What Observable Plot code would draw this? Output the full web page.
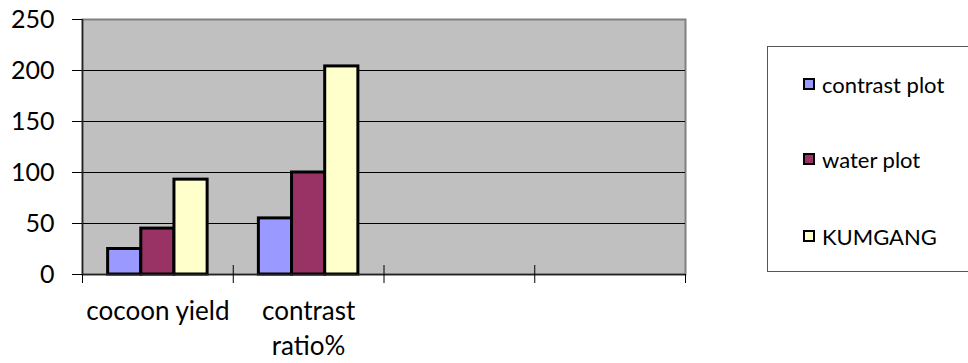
<!DOCTYPE html>
<html><head><meta charset="utf-8">
<script src="https://cdn.jsdelivr.net/npm/d3@7"></script>
<script src="https://cdn.jsdelivr.net/npm/@observablehq/plot@0.6"></script>
<style>
body{margin:0;overflow:hidden;background:#fff;font-family:Lato, sans-serif}
#wrap{position:relative;width:968px;height:363px;overflow:hidden}
#legend{position:absolute;left:767px;top:46px;width:215px;height:226px;border:1px solid #555;box-sizing:border-box;background:#fff}
.item{position:absolute;left:35px;height:26px;display:flex;align-items:center;font-size:22px;color:#000;white-space:nowrap}
.sw{display:inline-block;width:12px;height:12px;box-sizing:border-box;border:2.5px solid #000;margin-right:7px;flex:none}
</style></head><body><div id="wrap"><div id="legend"></div></div>
<script>
const categories = ["cocoon yield", "contrast ratio%", "", ""];
const categoryLabels = ["cocoon yield", "contrast\nratio%", "", ""];
const series = ["contrast plot", "water plot", "KUMGANG"];
const contrastPlot = [25, 55];
const waterPlot = [45, 100];
const kumgang = [93, 204];
const colors = ["#9999FF", "#993366", "#FFFFCC"];
const yTicks = [0, 50, 100, 150, 200, 250];

const seriesValues = [contrastPlot, waterPlot, kumgang];
const barW = 0.22;
const groupPad = (1 - series.length * barW) / 2;
const rows = [];
seriesValues.forEach((vals, j) => vals.forEach((v, i) => rows.push({
  cat: categories[i], series: series[j], value: v,
  x1: i + groupPad + j * barW, x2: i + groupPad + (j + 1) * barW
})));
const n = categories.length;

const chart = Plot.plot({
  width: 968, height: 363,
  marginLeft: 82, marginRight: 283, marginTop: 19, marginBottom: 89,
  style: {fontFamily: "Lato, sans-serif", fontSize: "25px", color: "#000", background: "#fff"},
  x: {type: "linear", domain: [0, n], label: null},
  y: {domain: [0, 250], label: null},
  color: {domain: series, range: colors},
  marks: [
    Plot.frame({fill: "#c0c0c0", stroke: "#808080", strokeWidth: 2}),
    Plot.ruleY(yTicks.slice(1, -1), {stroke: "#000", strokeWidth: 1}),
    Plot.rectY(rows, {x1: "x1", x2: "x2", y: "value", fill: "series", stroke: "#000", strokeWidth: 3}),
    Plot.ruleY([0], {stroke: "#222", strokeWidth: 1.5}),
    Plot.ruleX([0], {stroke: "#222", strokeWidth: 1.5}),
    Plot.axisY(yTicks, {tickSize: 10, tickPadding: 18, fontSize: 25, stroke: "#000", label: null}),
    Plot.axisX(d3.range(n + 1), {tickSize: 9, tickFormat: () => "", stroke: "#000", label: null}),
    Plot.axisX(d3.range(1, n), {tickSize: -9, tickFormat: () => "", stroke: "#000", label: null}),
    Plot.axisX(d3.range(n).map(i => i + 0.5), {tickSize: 0, tickPadding: 21, fontSize: 26, lineHeight: 1.33, label: null,
      tickFormat: (d) => categoryLabels[Math.floor(d)]})
  ]
});
document.getElementById("wrap").prepend(chart);

const legend = document.getElementById("legend");
const itemTops = [24, 99, 176];
series.forEach((s, j) => {
  const it = document.createElement("div");
  it.className = "item";
  it.style.top = itemTops[j] + "px";
  const sw = document.createElement("span");
  sw.className = "sw";
  sw.style.background = colors[j];
  it.appendChild(sw);
  it.appendChild(document.createTextNode(s));
  legend.appendChild(it);
});
</script></body></html>
